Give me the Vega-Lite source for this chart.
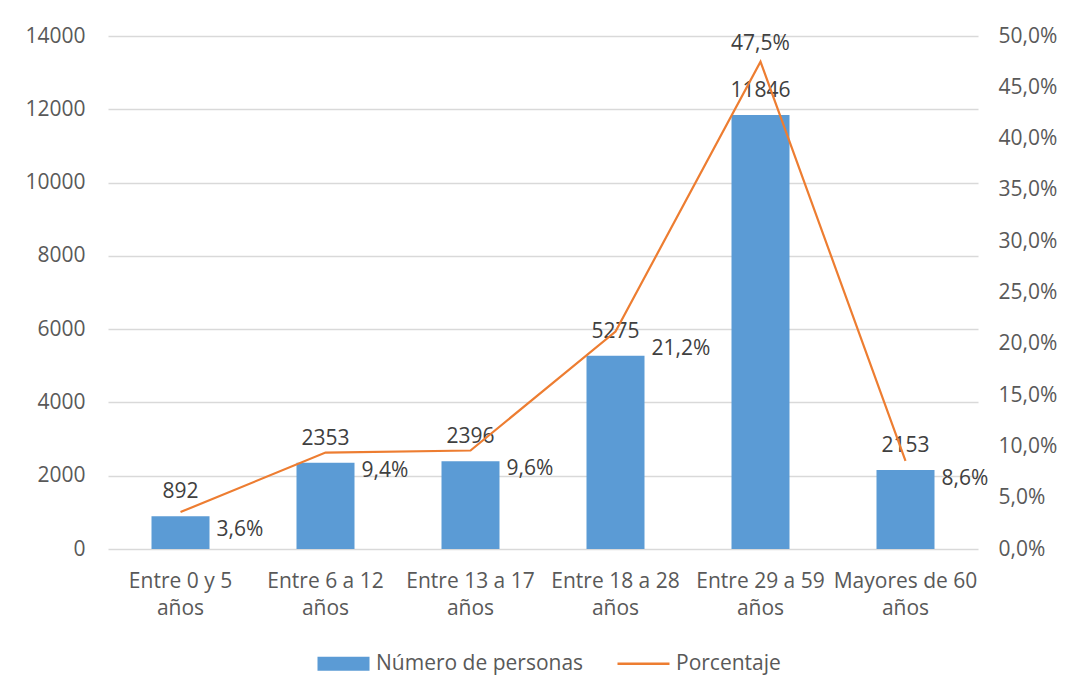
{
  "$schema": "https://vega.github.io/schema/vega-lite/v6.json",
  "autosize": "none",
  "padding": {"left": 108, "top": 36, "right": 87, "bottom": 149},
  "width": 870,
  "height": 513,
  "background": "white",
  "config": {
    "locale": {"number": {"decimal": ",", "thousands": ".", "grouping": [3], "currency": ["", " €"]}},
    "font": "Open Sans",
    "view": {"stroke": null},
    "axis": {"labelFont": "Open Sans", "labelFontSize": 21, "labelColor": "#595959", "ticks": false, "tickSize": 0, "domain": false, "title": null, "gridColor": "#D9D9D9", "gridWidth": 1.3}
  },
  "data": {
    "values": [
      {"cat": "Entre 0 y 5 años", "personas": 892, "pct": 0.036},
      {"cat": "Entre 6 a 12 años", "personas": 2353, "pct": 0.094},
      {"cat": "Entre 13 a 17 años", "personas": 2396, "pct": 0.096},
      {"cat": "Entre 18 a 28 años", "personas": 5275, "pct": 0.212},
      {"cat": "Entre 29 a 59 años", "personas": 11846, "pct": 0.475},
      {"cat": "Mayores de 60 años", "personas": 2153, "pct": 0.086}
    ]
  },
  "encoding": {
    "x": {
      "field": "cat", "type": "nominal", "sort": null,
      "scale": {"paddingInner": 0.6, "paddingOuter": 0.3},
      "axis": {"labelAngle": 0, "labelPadding": 21, "labelLineHeight": 27, "labelBaseline": "top", "grid": false, "labelLimit": 200,
        "labelExpr": "[substring(datum.label, 0, lastindexof(datum.label, ' ')), substring(datum.label, lastindexof(datum.label, ' ') + 1)]"}
    }
  },
  "layer": [
    {
      "layer": [
        {
          "mark": {"type": "bar", "color": "#5B9BD5"},
          "encoding": {
            "y": {"field": "personas", "type": "quantitative", "scale": {"domain": [0, 14000]},
              "axis": {"values": [0, 2000, 4000, 6000, 8000, 10000, 12000, 14000], "format": "d", "labelPadding": 23, "grid": true}},
            "color": {"datum": "Número de personas", "type": "nominal",
              "scale": {"domain": ["Número de personas", "Porcentaje"], "range": ["#5B9BD5", "#ED7D31"]},
              "legend": {
                "orient": "none", "legendX": 225, "legendY": 617, "direction": "horizontal", "title": null,
                "labelFont": "Open Sans", "labelFontSize": 21, "labelColor": "#595959", "labelOffset": 22, "labelLimit": 300,
                "columnPadding": 28, "symbolSize": 2704, "symbolType": "M-1,-0.27H1V0.27H-1Z",
                "encode": {"symbols": {"update": {
                  "shape": {"signal": "datum.value === 'Porcentaje' ? 'M-1,0H1' : 'M-1,-0.27H1V0.27H-1Z'"},
                  "fill": {"signal": "datum.value === 'Porcentaje' ? 'transparent' : '#5B9BD5'"},
                  "stroke": {"signal": "datum.value === 'Porcentaje' ? '#ED7D31' : 'transparent'"},
                  "strokeWidth": {"signal": "datum.value === 'Porcentaje' ? 2.5 : 0"},
                  "opacity": {"value": 1}
                }}}
              }}
          }
        },
        {
          "mark": {"type": "text", "font": "Open Sans", "fontSize": 21, "color": "#404040", "dy": -24, "baseline": "middle"},
          "encoding": {
            "y": {"field": "personas", "type": "quantitative"},
            "text": {"field": "personas", "type": "quantitative", "format": "d"}
          }
        }
      ]
    },
    {
      "layer": [
        {
          "mark": {"type": "line", "strokeWidth": 2.2},
          "encoding": {
            "y": {"field": "pct", "type": "quantitative", "scale": {"domain": [0, 0.5]},
              "axis": {"orient": "right", "values": [0, 0.05, 0.1, 0.15, 0.2, 0.25, 0.3, 0.35, 0.4, 0.45, 0.5], "format": ".1%", "labelPadding": 20, "grid": false}},
            "color": {"datum": "Porcentaje", "type": "nominal"}
          }
        },
        {
          "transform": [{"filter": "datum.pct < 0.4"}],
          "mark": {"type": "text", "font": "Open Sans", "fontSize": 21, "color": "#404040", "align": "left", "baseline": "middle", "dx": 36, "dy": 18},
          "encoding": {
            "y": {"field": "pct", "type": "quantitative"},
            "text": {"field": "pct", "type": "quantitative", "format": ".1%"}
          }
        },
        {
          "transform": [{"filter": "datum.pct >= 0.4"}],
          "mark": {"type": "text", "font": "Open Sans", "fontSize": 21, "color": "#404040", "align": "center", "baseline": "middle", "dy": -18},
          "encoding": {
            "y": {"field": "pct", "type": "quantitative"},
            "text": {"field": "pct", "type": "quantitative", "format": ".1%"}
          }
        }
      ]
    }
  ],
  "resolve": {"scale": {"y": "independent"}}
}
